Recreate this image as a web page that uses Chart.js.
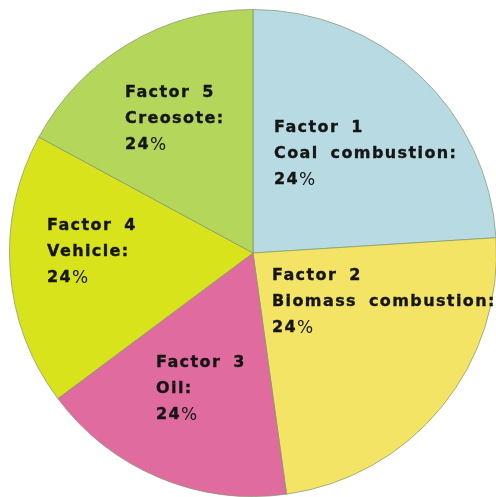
<!DOCTYPE html>
<html lang="en">
<head>
    <meta charset="UTF-8">
    <title>Source apportionment factors</title>
    <script src="https://cdn.jsdelivr.net/npm/chart.js"></script>
    <style>
        html, body {
            margin: 0;
            padding: 0;
            overflow: hidden;
            background-color: white;
        }
        #chart-container {
            position: absolute;
            left: 0;
            top: 0;
            width: 506px;
            height: 506px;
        }
    </style>
</head>
<body>
    <div id="chart-container">
        <canvas id="factorChart"></canvas>
    </div>

    <script>
        // slice sizes (the printed labels all say 24%)
        const factors = ['Factor 1', 'Factor 2', 'Factor 3', 'Factor 4', 'Factor 5'];
        const sources = ['Coal combustion:', 'Biomass combustion:', 'Oil:', 'Vehicle:', 'Creosote:'];
        const shares = [24.0, 23.8, 17.0, 18.1, 17.1];
        const shareLabels = ['24', '24', '24', '24', '24'];
        const colors = ['#b8dbe3', '#f3e465', '#e06c9f', '#d8e31c', '#b3d65b'];

        // where each label block starts, relative to the pie centre
        const labelOffsets = [[21, -133], [19, 15], [-97, 102], [-206, -35], [-128, -168]];

        const ctx = document.getElementById('factorChart').getContext('2d');

        const labelPlugin = {
            id: 'sliceLabels',
            afterDatasetsDraw(chart) {
                const { ctx } = chart;
                const arc = chart.getDatasetMeta(0).data[0];
                const cx = arc.x, cy = arc.y;
                ctx.save();
                ctx.fillStyle = '#151515';
                ctx.strokeStyle = '#151515';
                ctx.lineWidth = 0.35;
                ctx.textAlign = 'left';
                ctx.textBaseline = 'top';
                ctx.letterSpacing = '1.4px';
                const bold = (t, x, y) => {
                    ctx.fillText(t, x, y);
                    ctx.strokeText(t, x, y);
                };
                factors.forEach((f, i) => {
                    const x = cx + labelOffsets[i][0];
                    const y = cy + labelOffsets[i][1];
                    ctx.font = 'bold 16px "DejaVu Sans"';
                    ctx.wordSpacing = '5px';
                    bold(f, x, y);
                    bold(sources[i], x, y + 26);
                    bold(shareLabels[i], x, y + 52);
                    const w = ctx.measureText(shareLabels[i]).width;
                    ctx.font = '17px "DejaVu Sans"';
                    ctx.fillText('%', x + w, y + 52);
                });
                ctx.restore();
            }
        };

        new Chart(ctx, {
            type: 'pie',
            data: {
                labels: factors,
                datasets: [{
                    data: shares,
                    backgroundColor: colors,
                    borderColor: 'rgba(130, 150, 110, 0.7)',
                    borderWidth: 1
                }]
            },
            options: {
                responsive: true,
                maintainAspectRatio: false,
                animation: false,
                layout: { padding: 9 },
                plugins: {
                    legend: { display: false },
                    tooltip: { enabled: false }
                }
            },
            plugins: [labelPlugin]
        });
    </script>
</body>
</html>
